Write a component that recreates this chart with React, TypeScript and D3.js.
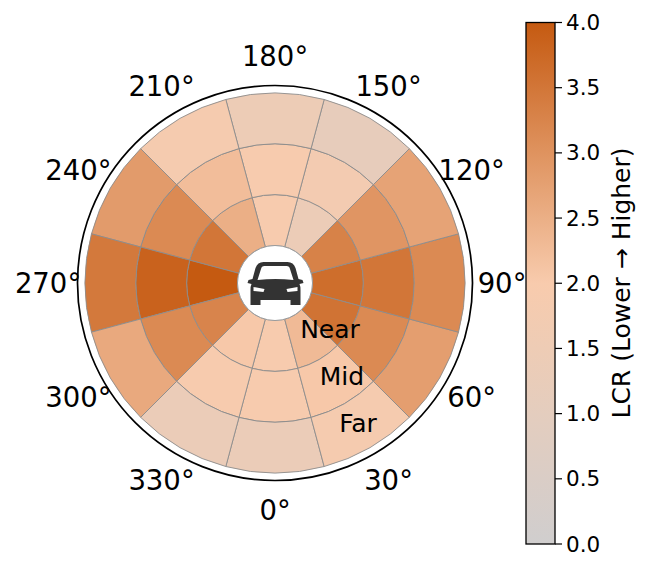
import React from "react";
import * as d3 from "d3";

const angles = [0, 30, 60, 90, 120, 150, 180, 210, 240, 270, 300, 330];
const nearValues = [1.95, 2.3, 3.55, 3.65, 3.3, 1.4, 1.95, 2.5, 3.5, 4.0, 3.25, 2.05];
const midValues = [1.95, 2.05, 3.15, 3.5, 2.95, 1.75, 1.95, 2.25, 3.15, 3.85, 3.15, 1.95];
const farValues = [1.35, 1.85, 2.8, 3.15, 2.7, 1.15, 1.45, 1.85, 2.85, 3.45, 2.6, 1.35];
const colorStops = ["#d0cece", "#f8cbad", "#c55a11"];
const colorDomain = [0, 2, 4];
const cbarTicks = [0, 0.5, 1, 1.5, 2, 2.5, 3, 3.5, 4];
const ringLabels = ["Near", "Mid", "Far"];

const W = 648, H = 572;
const cx = 275, cy = 283;
const frameR = 197.5;
const radius = d3.scaleLinear().domain([0, 3]).range([37.5, 190]);
const color = d3.scaleLinear<string>().domain(colorDomain).range(colorStops).interpolate(d3.interpolateRgb);
const cbarY = d3.scaleLinear().domain([0, 4]).range([544, 22.5]);
const FONT = "'DejaVu Sans', sans-serif";

// 0° points down and angles grow counter-clockwise; d3.arc measures clockwise from 12 o'clock
const toArc = (deg: number) => ((180 - deg) * Math.PI) / 180;
const arc = d3.arc();
const rings = [nearValues, midValues, farValues];

export default function App() {
  return (
    <svg width={W} height={H} style={{ position: "absolute", left: 0, top: 0, background: "#fff" }} fontFamily={FONT}>
      <defs>
        <linearGradient id="cb" x1="0" y1="1" x2="0" y2="0">
          {d3.range(0, 4.01, 0.5).map((v) => (
            <stop key={v} offset={v / 4} stopColor={color(v)} />
          ))}
        </linearGradient>
      </defs>
      <g transform={`translate(${cx},${cy})`}>
        {rings.map((vals, ri) =>
          vals.map((v, ai) => (
            <path
              key={`${ri}-${ai}`}
              d={arc({
                innerRadius: radius(ri),
                outerRadius: radius(ri + 1),
                startAngle: toArc(angles[ai] + 15),
                endAngle: toArc(angles[ai] - 15),
              }) as string}
              fill={color(v)}
              stroke="#8c8c8c"
              strokeWidth={0.9}
            />
          ))
        )}
        <circle r={radius(0)} fill="#fff" stroke="#9a9a9a" strokeWidth={1} />
        <circle r={frameR} fill="none" stroke="#000" strokeWidth={1.7} />
        {angles.map((a) => {
          const t = toArc(a);
          const rl = 227;
          return (
            <text
              key={a}
              x={rl * Math.sin(t)}
              y={-rl * Math.cos(t)}
              textAnchor="middle"
              dominantBaseline="central"
              fontSize={27.5}
              fill="#000"
            >
              {a}°
            </text>
          );
        })}
        {/* car icon */}
        <g fill="#333" transform="translate(0.5,0)">
          <path d="M-20,-15 Q-18,-21 -12,-21 L12,-21 Q18,-21 20,-15 L23,-4 L27,-3 L28,0 L24,1 Q25,3 25,7 L25,22 L15,22 L15,17 L-15,17 L-15,22 L-25,22 L-25,7 Q-25,3 -24,1 L-28,0 L-27,-3 L-23,-4 Z" />
          <path d="M-18,-3 L-14.5,-14 Q-14,-17 -11,-17 L11,-17 Q14,-17 14.5,-14 L18,-3 Q0,-5 -18,-3 Z" fill="#fff" />
          <path d="M-22,4 L-11,6 L-12,9 L-22,8 Z" fill="#fff" />
          <path d="M22,4 L11,6 L12,9 L22,8 Z" fill="#fff" />
        </g>
      </g>
      {ringLabels.map((s, i) => (
        <text key={s} x={[330, 342, 358][i]} y={[329, 376, 423][i]} textAnchor="middle" dominantBaseline="central" fontSize={25} fill="#000">
          {s}
        </text>
      ))}
      <rect x={526} y={22.5} width={29} height={521.5} fill="url(#cb)" stroke="#000" strokeWidth={1.3} />
      {cbarTicks.map((t) => (
        <g key={t} transform={`translate(555,${cbarY(t)})`}>
          <line x2={7} stroke="#000" strokeWidth={1.2} />
          <text x={11} y={0} dominantBaseline="central" fontSize={21.5} fill="#000">
            {t.toFixed(1)}
          </text>
        </g>
      ))}
      <text transform={`translate(621,283) rotate(-90)`} textAnchor="middle" dominantBaseline="central" fontSize={25} fill="#000">
        LCR (Lower → Higher)
      </text>
    </svg>
  );
}
